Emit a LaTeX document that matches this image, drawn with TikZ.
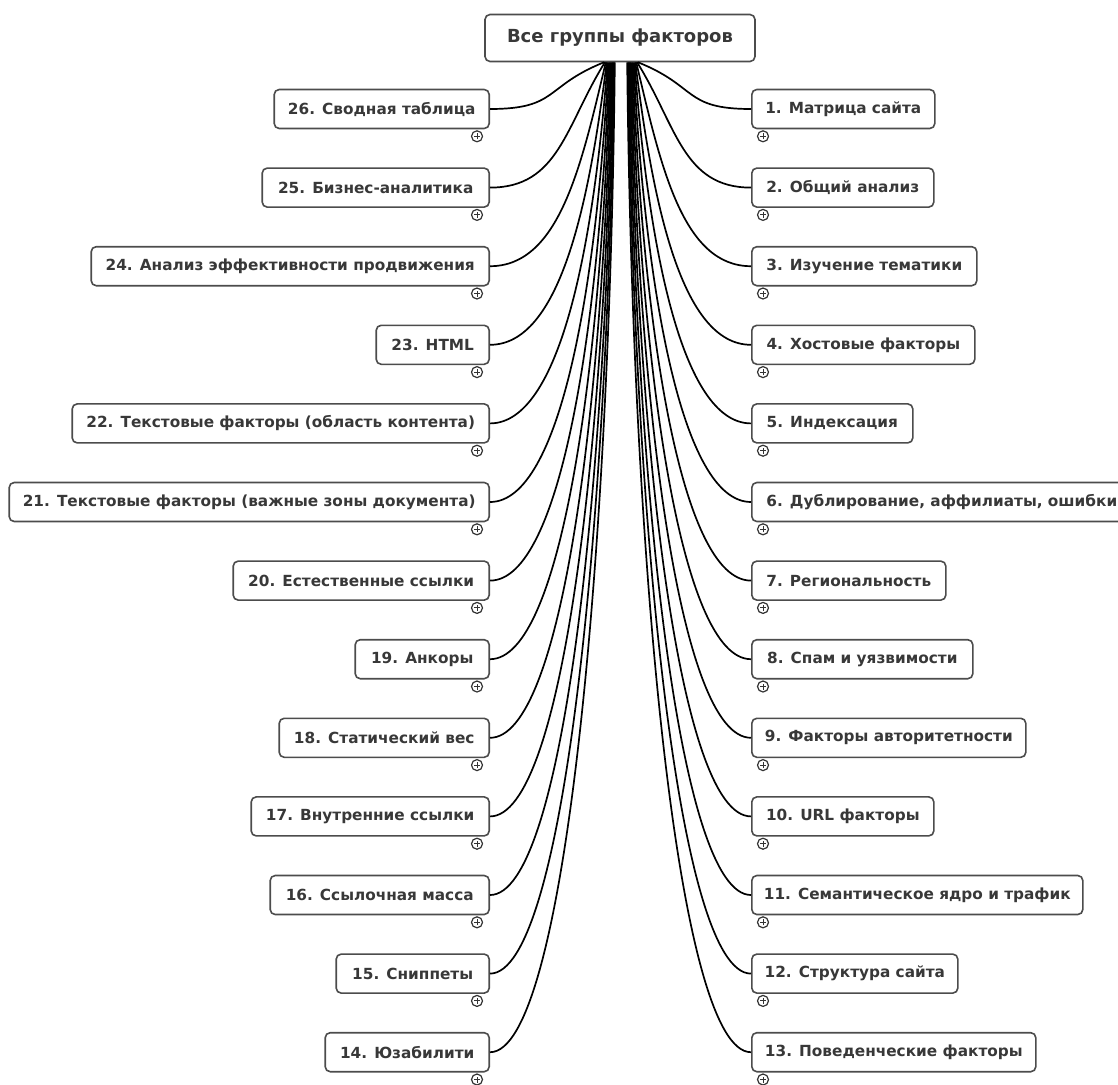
\documentclass[tikz,border=0pt]{standalone}
\usepackage{fontspec}
\setmainfont{DejaVu Sans}
\usetikzlibrary{calc}

\begin{document}
\begin{tikzpicture}[
  x=1pt, y=-1pt,
  every node/.style={font=\bfseries\fontsize{15.3}{18}\selectfont, text=black!78},
  factor/.style={draw=black!70, line width=1.6pt, rounded corners=5pt, fill=white,
    minimum height=39pt, inner xsep=0pt, inner ysep=0pt},
  rootbox/.style={factor, minimum width=270pt, minimum height=47pt,
    font=\bfseries\fontsize{18}{22}\selectfont},
  branch/.style={line width=1.7pt},
  expander/.style={circle, draw=black!80, line width=1.2pt, fill=white,
    minimum size=11pt, inner sep=0pt,
    path picture={\draw[line width=0.9pt]
      ([xshift=-3pt]path picture bounding box.center) -- ([xshift=3pt]path picture bounding box.center)
      ([yshift=-3pt]path picture bounding box.center) -- ([yshift=3pt]path picture bounding box.center);}}
]
\useasboundingbox (0,0) rectangle (1118,1084);

% root
\node[rootbox] (root) at (620,38) {Все группы факторов};

% left side, top to bottom
\foreach \num/\txt/\w [count=\k from 0] in {
  26/26. Сводная таблица/215,
  25/25. Бизнес-аналитика/227,
  24/24. Анализ эффективности продвижения/398,
  23/23. HTML/113,
  22/22. Текстовые факторы (область контента)/417,
  21/21. Текстовые факторы (важные зоны документа)/480,
  20/20. Естественные ссылки/256,
  19/19. Анкоры/134,
  18/18. Статический вес/210,
  17/17. Внутренние ссылки/238,
  16/16. Ссылочная масса/219,
  15/15. Сниппеты/153,
  14/14. Юзабилити/164}{
  \pgfmathsetmacro\yk{109+78.6*\k}
  \pgfmathsetmacro\dy{\yk-61}
  \pgfmathsetmacro\dx{114+0.9*\k}
  \pgfmathsetmacro\bend{min(60,5000/\dy)}
  \node[factor, minimum width=\w pt, anchor=east] (f\num) at (490,\yk) {\txt};
  \node[expander] (x\num) at ($(f\num.south east)+(-13,7)$) {};
  \coordinate (s\num) at ($(root.south)+(-16+0.9*\k,0)$);
  \draw[branch] (s\num) .. controls +(-\bend,0.5*\dy) and +(0.6*\dx,0) .. (f\num.east);
}

% right side, top to bottom
\foreach \num/\txt/\w [count=\k from 0] in {
  1/1. Матрица сайта/183,
  2/2. Общий анализ/182,
  3/3. Изучение тематики/225,
  4/4. Хостовые факторы/223,
  5/5. Индексация/161,
  6/{6. Дублирование, аффилиаты, ошибки}/380,
  7/7. Региональность/194,
  8/8. Спам и уязвимости/221,
  9/9. Факторы авторитетности/274,
  10/10. URL факторы/182,
  11/11. Семантическое ядро и трафик/331,
  12/12. Структура сайта/206,
  13/13. Поведенческие факторы/284}{
  \pgfmathsetmacro\yk{109+78.6*\k}
  \pgfmathsetmacro\dy{\yk-61}
  \pgfmathsetmacro\dx{113+0.9*\k}
  \pgfmathsetmacro\bend{min(60,5000/\dy)}
  \node[factor, minimum width=\w pt, anchor=west] (f\num) at (751,\yk) {\txt};
  \node[expander] (x\num) at ($(f\num.south west)+(12,7)$) {};
  \coordinate (s\num) at ($(root.south)+(18-0.9*\k,0)$);
  \draw[branch] (s\num) .. controls +(\bend,0.5*\dy) and +(-0.6*\dx,0) .. (f\num.west);
}

\end{tikzpicture}
\end{document}
